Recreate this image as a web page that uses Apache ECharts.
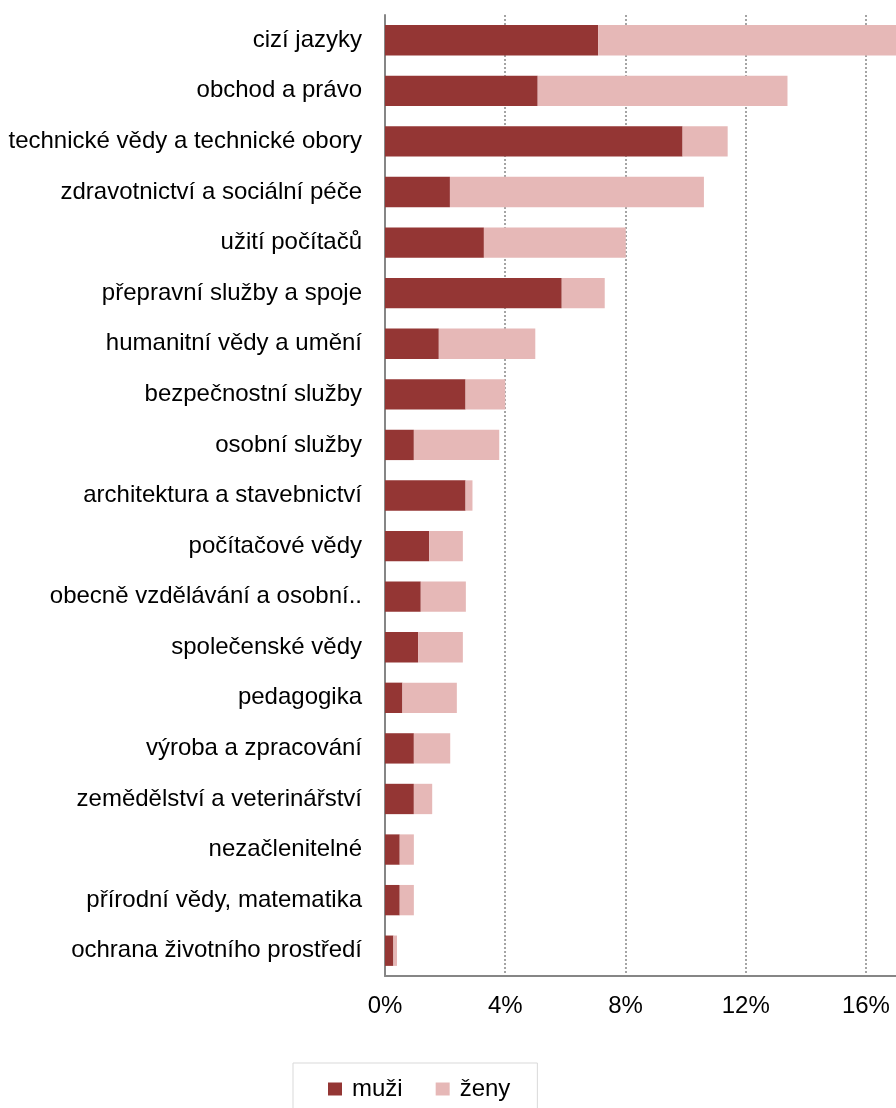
<!DOCTYPE html>
<html>
<head>
<meta charset="utf-8">
<script src="https://cdn.jsdelivr.net/npm/echarts@6/dist/echarts.min.js"></script>
<style>
  html, body { margin: 0; padding: 0; background: #fff; }
  #chart { width: 896px; height: 1108px; }
</style>
</head>
<body>
<div id="chart"></div>
<script>
const categories = [
  "cizí jazyky",
  "obchod a právo",
  "technické vědy a technické obory",
  "zdravotnictví a sociální péče",
  "užití počítačů",
  "přepravní služby a spoje",
  "humanitní vědy a umění",
  "bezpečnostní služby",
  "osobní služby",
  "architektura a stavebnictví",
  "počítačové vědy",
  "obecně vzdělávání a osobní..",
  "společenské vědy",
  "pedagogika",
  "výroba a zpracování",
  "zemědělství a veterinářství",
  "nezačlenitelné",
  "přírodní vědy, matematika",
  "ochrana životního prostředí"
];

const muzi = [7.09, 5.08, 9.90, 2.16, 3.29, 5.88, 1.79, 2.68, 0.96, 2.68, 1.47, 1.19, 1.10, 0.58, 0.96, 0.96, 0.49, 0.49, 0.28];
const zeny = [9.91, 8.31, 1.50, 8.45, 4.72, 1.43, 3.21, 1.32, 2.84, 0.23, 1.12, 1.50, 1.49, 1.81, 1.21, 0.61, 0.47, 0.47, 0.12];

const xTicks = [0, 4, 8, 12, 16];

const font = "'Liberation Sans', Arial, sans-serif";
const chart = echarts.init(document.getElementById("chart"));

chart.setOption({
  animation: false,
  backgroundColor: "#ffffff",
  grid: { left: 385, top: 15, bottom: 132, right: 0, containLabel: false },
  legend: {
    data: ["muži", "ženy"],
    left: 293,
    top: 1063,
    orient: "horizontal",
    icon: "rect",
    itemWidth: 14,
    itemHeight: 13,
    itemGap: 33,
    padding: [14, 27, 40, 35],
    borderColor: "#d9d9d9",
    borderWidth: 1,
    textStyle: { fontFamily: font, fontSize: 24, color: "#000", padding: [0, 0, 0, 5] }
  },
  xAxis: {
    type: "value",
    min: 0,
    max: 17,
    interval: 4,
    axisLine: { show: true, lineStyle: { color: "#868686", width: 2 } },
    axisTick: { show: false },
    axisLabel: {
      fontFamily: font,
      fontSize: 24,
      color: "#000",
      margin: 18,
      showMaxLabel: false,
      formatter: v => (xTicks.includes(v) ? v + "%" : "")
    },
    splitLine: {
      show: true,
      showMaxLine: false,
      lineStyle: { color: "#868686", type: [2, 2], width: 1.5 }
    }
  },
  yAxis: {
    type: "category",
    data: categories,
    inverse: true,
    axisLine: { show: true, lineStyle: { color: "#868686", width: 2 } },
    axisTick: { show: false },
    axisLabel: { fontFamily: font, fontSize: 24, color: "#000", margin: 23 }
  },
  series: [
    {
      name: "muži",
      type: "bar",
      stack: "total",
      barWidth: "60%",
      data: muzi,
      itemStyle: { color: "#943634" }
    },
    {
      name: "ženy",
      type: "bar",
      stack: "total",
      barWidth: "60%",
      data: zeny,
      itemStyle: { color: "#e6b8b7" }
    }
  ]
});
</script>
</body>
</html>
